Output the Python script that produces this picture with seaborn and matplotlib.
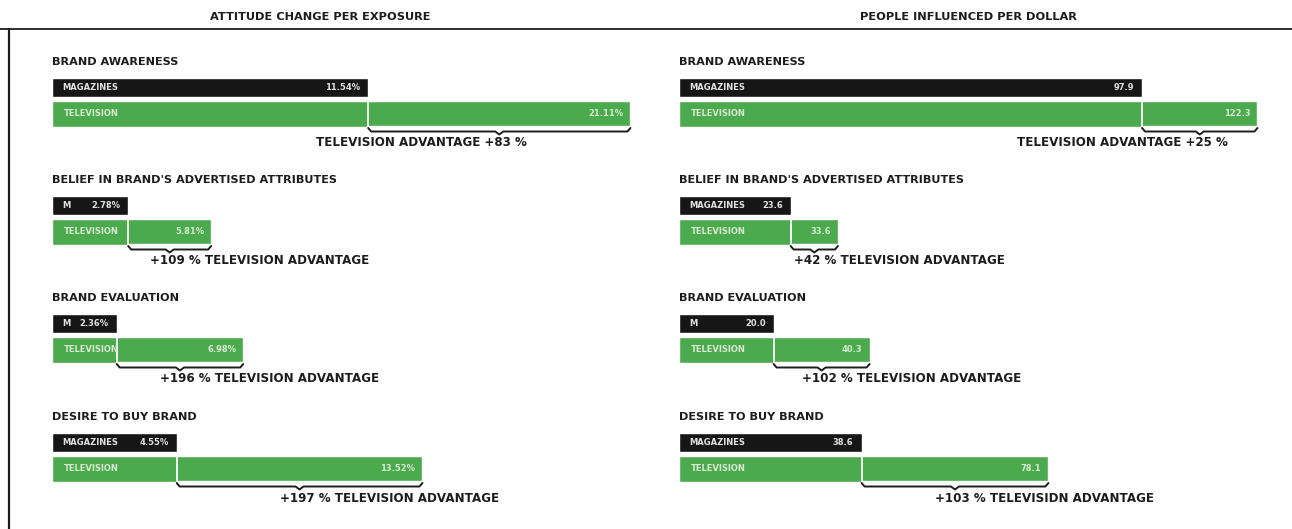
import numpy as np
import pandas as pd
import matplotlib
matplotlib.use("Agg")
import matplotlib.pyplot as plt
from matplotlib.lines import Line2D
import seaborn as sns

# ---------------- data ----------------
panel_titles = ["ATTITUDE CHANGE PER EXPOSURE", "PEOPLE INFLUENCED PER DOLLAR"]
measures = ["BRAND AWARENESS", "BELIEF IN BRAND'S ADVERTISED ATTRIBUTES",
            "BRAND EVALUATION", "DESIRE TO BUY BRAND"]
media = ["MAGAZINES", "TELEVISION"]

attitude_magazines = [11.54, 2.78, 2.36, 4.55]
attitude_television = [21.11, 5.81, 6.98, 13.52]
attitude_mag_labels = ["MAGAZINES", "M", "M", "MAGAZINES"]
attitude_adv_labels = ["TELEVISION ADVANTAGE +83 %", "+109 % TELEVISION ADVANTAGE",
                       "+196 % TELEVISION ADVANTAGE", "+197 % TELEVISION ADVANTAGE"]

people_magazines = [97.9, 23.6, 20.0, 38.6]
people_television = [122.3, 33.6, 40.3, 78.1]
people_mag_labels = ["MAGAZINES", "MAGAZINES", "M", "MAGAZINES"]
people_adv_labels = ["TELEVISION ADVANTAGE +25 %", "+42 % TELEVISION ADVANTAGE",
                     "+102 % TELEVISION ADVANTAGE", "+103 % TELEVISIDN ADVANTAGE"]

# ---------------- style ----------------
sns.set_theme(style="white")
plt.rcParams["font.family"] = ["DejaVu Sans"]
BLACK = "#161616"
GREEN = "#4caa4e"
INK = "#1c1c1c"

W, H = 1292, 529
fig = plt.figure(figsize=(W / 100, H / 100), dpi=100)
fig.patch.set_facecolor("white")


def px_axes(x, y, w, h):
    return fig.add_axes([x / W, 1 - (y + h) / H, w / W, h / H])


# frame lines
fig.add_artist(Line2D([0, 1], [1 - 28.5 / H] * 2, transform=fig.transFigure,
                      color=INK, lw=1.3))
fig.add_artist(Line2D([8.5 / W] * 2, [0, 1 - 28.5 / H], transform=fig.transFigure,
                      color=INK, lw=1.6))

panels = [
    dict(title=panel_titles[0], tx=320, x0=52, scale=27.4,
         mag=attitude_magazines, tv=attitude_television,
         mlab=attitude_mag_labels, adv=attitude_adv_labels, fmt="{:.2f}%"),
    dict(title=panel_titles[1], tx=968, x0=679, scale=4.73,
         mag=people_magazines, tv=people_television,
         mlab=people_mag_labels, adv=people_adv_labels, fmt="{:.1f}"),
]

group_tops = [78, 196, 314, 433]
GH = 49.0                      # pixel height of one group of two bars
Y0, Y1 = -0.42, 1.42
unit = GH / (Y1 - Y0)          # pixels per y data unit
AXW = 600

for p in panels:
    fig.text(p["tx"] / W, 1 - 17 / H, p["title"], ha="center", va="center",
             fontsize=8.2, fontweight="bold", color=INK)
    sx = p["scale"]
    for i, top in enumerate(group_tops):
        m, t = p["mag"][i], p["tv"][i]
        ax = px_axes(p["x0"], top, AXW, GH)
        df = pd.DataFrame({"medium": media, "value": [m, t]})
        sns.barplot(data=df, x="value", y="medium", hue="medium",
                    palette=[BLACK, GREEN], orient="h", width=0.84,
                    saturation=1, legend=False, ax=ax)
        ax.set_xlim(0, AXW / sx)
        ax.set_ylim(Y1, Y0)
        ax.axis("off")
        # magazines bar slightly thinner than television bar
        for patch in ax.patches:
            yc = patch.get_y() + patch.get_height() / 2
            if yc < 0.5:
                patch.set_y(Y0)
                patch.set_height(0.72)
            else:
                patch.set_y(0.44)
                patch.set_height(Y1 - 0.44)
        ym = Y0 + 0.36
        yt = (0.44 + Y1) / 2

        # group title
        ax.text(0, Y0 - 16 / unit, measures[i], ha="left", va="center",
                fontsize=8.1, fontweight="bold", color=INK, clip_on=False)

        # labels inside bars
        ax.text(10 / sx, ym, p["mlab"][i], ha="left", va="center",
                fontsize=6.0, fontweight="bold", color="#e2e2e2")
        ax.text(m - 8 / sx, ym, p["fmt"].format(m), ha="right", va="center",
                fontsize=6.0, fontweight="bold", color="#e2e2e2")
        ax.text(12 / sx, yt, "TELEVISION", ha="left", va="center",
                fontsize=6.0, fontweight="bold", color="#d6ebd0")
        ax.text(t - 7 / sx, yt, p["fmt"].format(t), ha="right", va="center",
                fontsize=6.0, fontweight="bold", color="#d6ebd0")

        # white divider marking the advantage segment
        ax.plot([m, m], [0.44, Y1], color="white", lw=1.3, solid_capstyle="butt")
        ax.plot([m, t], [Y1 - 0.6 / unit] * 2, color="white", lw=1.0)

        # brace under the advantage segment
        mid = (m + t) / 2
        yb = Y1
        bx = [m, m + 3 / sx, mid - 4 / sx, mid, mid + 4 / sx, t - 3 / sx, t]
        by = [yb + 1 / unit, yb + 4.5 / unit, yb + 4.5 / unit, yb + 7.5 / unit,
              yb + 4.5 / unit, yb + 4.5 / unit, yb + 1 / unit]
        ax.plot(bx, by, color=INK, lw=1.4, clip_on=False)

        # advantage text
        if i == 0:
            ax.text(mid + 28 / sx, yb + 16 / unit, p["adv"][i], ha="right",
                    va="center", fontsize=8.6, fontweight="bold", color=INK,
                    clip_on=False)
        else:
            ax.text(mid - 20 / sx, yb + 16 / unit, p["adv"][i], ha="left",
                    va="center", fontsize=8.6, fontweight="bold", color=INK,
                    clip_on=False)

fig.savefig("out.png", dpi=100, facecolor="white")
